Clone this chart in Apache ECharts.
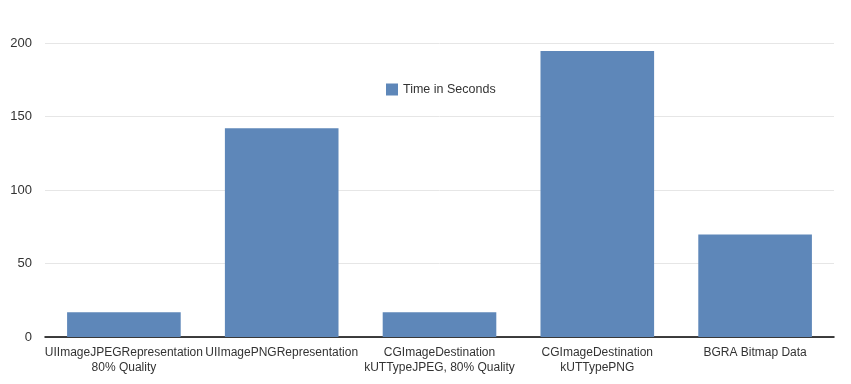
<!DOCTYPE html>
<html><head><meta charset="utf-8">
<script src="https://cdn.jsdelivr.net/npm/echarts@6/dist/echarts.min.js"></script>
<style>html,body{margin:0;padding:0;background:#fff}#c{width:851px;height:384px}</style>
</head><body><div id="c"></div>
<script>
const categories = ["UIImageJPEGRepresentation\n80% Quality","UIImagePNGRepresentation","CGImageDestination\nkUTTypeJPEG, 80% Quality","CGImageDestination\nkUTTypePNG","BGRA Bitmap Data"];
const seriesName = "Time in Seconds";
const values = [16.8, 142, 16.8, 194.6, 69.8];
const chart = echarts.init(document.getElementById('c'));
chart.setOption({
  animation:false,
  textStyle:{fontFamily:'Liberation Sans, Arial, sans-serif'},
  legend:{data:[seriesName],left:386,top:83,padding:0,itemWidth:12,itemHeight:12,itemGap:7,
    textStyle:{color:'#333',fontSize:12.5}, icon:'rect'},
  grid:{left:45,right:17,top:43,bottom:47,containLabel:false},
  xAxis:{type:'category',data:categories,
    axisLine:{lineStyle:{color:'#000',width:1.5}},axisTick:{show:false},
    axisLabel:{color:'#333',fontSize:12,interval:0,lineHeight:15,margin:8}},
  yAxis:{type:'value',min:0,max:200,interval:50,
    axisLine:{show:false},axisTick:{show:false},
    axisLabel:{color:'#333',fontSize:13,margin:13},
    splitLine:{lineStyle:{color:'#e6e6e6'}}},
  series:[{name:seriesName,type:'bar',data:values,barCategoryGap:'28%',
    itemStyle:{color:'#5e87b9'}}]
});
</script></body></html>
